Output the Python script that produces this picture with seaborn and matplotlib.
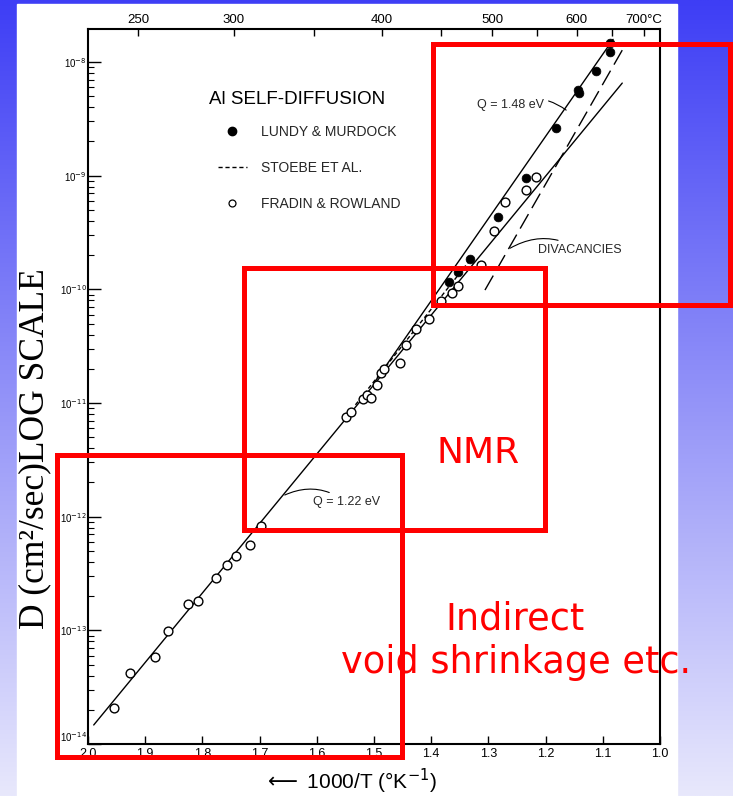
import numpy as np
import pandas as pd
import matplotlib
matplotlib.use("Agg")
import matplotlib.pyplot as plt
import seaborn as sns
from matplotlib.lines import Line2D
from matplotlib.patches import Rectangle
from matplotlib.ticker import LogLocator, NullFormatter

# ---------------- data ----------------
fradin_x = [1.954, 1.927, 1.882, 1.861, 1.826, 1.808, 1.776, 1.757, 1.742, 1.716,
            1.698, 1.549, 1.540, 1.520, 1.512, 1.505, 1.495, 1.487, 1.483, 1.455,
            1.444, 1.427, 1.404, 1.383, 1.364, 1.354, 1.313, 1.291, 1.271, 1.235, 1.217]
fradin_D = [2.08e-14, 4.19e-14, 5.79e-14, 9.86e-14, 1.71e-13, 1.80e-13, 2.86e-13,
            3.75e-13, 4.53e-13, 5.60e-13, 8.26e-13, 7.57e-12, 8.38e-12, 1.08e-11,
            1.17e-11, 1.11e-11, 1.44e-11, 1.85e-11, 1.98e-11, 2.26e-11, 3.23e-11,
            4.47e-11, 5.51e-11, 7.87e-11, 9.31e-11, 1.08e-10, 1.64e-10, 3.25e-10,
            5.81e-10, 7.41e-10, 9.75e-10]

lundy_x = [1.369, 1.353, 1.332, 1.284, 1.234, 1.182, 1.144, 1.142, 1.112, 1.087, 1.087]
lundy_D = [1.16e-10, 1.43e-10, 1.85e-10, 4.29e-10, 9.57e-10, 2.60e-9, 5.65e-9,
           5.28e-9, 8.36e-9, 1.22e-8, 1.46e-8]

q122_x = [1.990, 1.066]
q122_D = [1.47e-14, 6.52e-9]
q148_x = [1.500, 1.082]
q148_D = [1.50e-11, 1.58e-8]
stoebe_x = [1.533, 1.332]
stoebe_D = [9.55e-12, 1.81e-10]
divac_x = [1.311, 1.066]
divac_D = [8.9e-11, 1.27e-8]

bottom_ticks = [2.0, 1.9, 1.8, 1.7, 1.6, 1.5, 1.4, 1.3, 1.2, 1.1, 1.0]
bottom_labels = ["2.0", "1.9", "1.8", "1.7", "1.6", "1.5", "1.4", "1.3", "1.2", "1.1", "1.0"]
top_celsius = [250, 300, 350, 400, 450, 500, 550, 600, 650, 700]
top_labels = ["250", "300", "", "400", "", "500", "", "600", "", "700°C"]
y_decades = [-14, -13, -12, -11, -10, -9, -8]

legend_labels = ["LUNDY & MURDOCK", "STOEBE ET AL.", "FRADIN & ROWLAND"]

# red overlay boxes in figure pixels (x0, y0, x1, y1), y downwards
red_boxes = [(433, 44, 730, 305), (244, 268, 545, 530), (57, 455, 402, 757)]

# ---------------- style ----------------
sns.set_theme(style="ticks")
plt.rcParams["font.family"] = ["Liberation Sans", "DejaVu Sans"]

W, H = 733, 796
fig = plt.figure(figsize=(W / 100, H / 100), dpi=100)

# background gradient + white scan panel
bg = fig.add_axes([0, 0, 1, 1], zorder=0)
t = np.linspace(0, 1, 400)[:, None, None]
top_col = np.array([62, 62, 245]) / 255
bot_col = np.array([232, 232, 252]) / 255
img = top_col * (1 - t) + bot_col * t
img = np.repeat(img, 4, axis=1)
bg.imshow(img, aspect="auto", extent=[0, W, H, 0])
bg.set_xlim(0, W)
bg.set_ylim(H, 0)
bg.add_patch(Rectangle((17, 4), 660, H - 4, color="white", zorder=2))
bg.axis("off")

# main axes
ax = fig.add_axes([88 / W, (H - 744) / H, 572 / W, 715 / H], zorder=2)
ax.set_facecolor("white")

df_f = pd.DataFrame({"x": fradin_x, "D": fradin_D})
df_l = pd.DataFrame({"x": lundy_x, "D": lundy_D})

sns.lineplot(x=q122_x, y=q122_D, ax=ax, color="black", lw=1.0, zorder=3)
sns.lineplot(x=q148_x, y=q148_D, ax=ax, color="black", lw=1.0, zorder=3)
sns.lineplot(x=stoebe_x, y=stoebe_D, ax=ax, color="black", lw=1.0,
             linestyle=(0, (3, 2)), zorder=3)
sns.lineplot(x=divac_x, y=divac_D, ax=ax, color="black", lw=1.0,
             linestyle=(0, (12, 5)), zorder=3)

sns.scatterplot(data=df_f, x="x", y="D", ax=ax, marker="o", s=40,
                facecolor="white", edgecolor="black", linewidth=1.0, zorder=4)
sns.scatterplot(data=df_l, x="x", y="D", ax=ax, marker="o", s=40,
                color="black", edgecolor="black", linewidth=0.5, zorder=5)

ax.set_yscale("log")
ax.set_xlim(2.0, 1.0)
ax.set_ylim(1e-14, 10 ** -7.71)

ax.set_xticks(bottom_ticks, bottom_labels)
ax.tick_params(axis="x", which="both", direction="in", length=6, width=1,
               labelsize=9, pad=3, colors="black", top=False)
ax.set_yticks([10.0 ** k for k in y_decades], [f"10$^{{{k}}}$" for k in y_decades])
ax.yaxis.set_minor_locator(LogLocator(base=10, subs=np.arange(2, 10)))
ax.yaxis.set_minor_formatter(NullFormatter())
ax.tick_params(axis="y", which="major", direction="in", length=9, width=1,
               labelsize=7, pad=1, colors="black", right=False)
ax.tick_params(axis="y", which="minor", direction="in", length=4.5, width=0.8,
               colors="black", right=False)
for sp in ax.spines.values():
    sp.set_color("black")
    sp.set_linewidth(1.5)
    sp.set_visible(True)
# lowest decade label sits just above the corner, as in the scan
ax.get_yticklabels()[0].set_verticalalignment("bottom")

axt = ax.twiny()
axt.set_xlim(2.0, 1.0)
axt.set_xticks([1000.0 / (c + 273.0) for c in top_celsius], top_labels)
axt.tick_params(axis="x", direction="in", length=5, width=1, labelsize=9.5,
                pad=2, colors="black")
axt.xaxis.set_minor_locator(matplotlib.ticker.NullLocator())
for sp in axt.spines.values():
    sp.set_visible(False)

ax.set_ylabel("")
ax.set_xlabel("$\\longleftarrow$ 1000/T (°K$^{-1}$)", fontsize=15, color="black")
ax.xaxis.set_label_coords(0.458, -0.032)

# titles / legend inside the plot
ax.text(0.366, 0.901, "Al SELF-DIFFUSION", transform=ax.transAxes,
        ha="center", va="center", fontsize=13.5, color="black")

handles = [
    Line2D([], [], marker="o", color="black", ls="none", markersize=6),
    Line2D([], [], color="black", lw=1.0, ls=(0, (3, 2))),
    Line2D([], [], marker="o", mfc="white", mec="black", ls="none", markersize=5, mew=0.9),
]
ax.legend(handles, legend_labels, loc="upper left", bbox_to_anchor=(0.227, 0.866),
          frameon=False, fontsize=10, handlelength=2.1, handletextpad=1.0,
          labelspacing=1.6, borderpad=0, borderaxespad=0)

ann = dict(arrowstyle="-", lw=0.8, color="black", shrinkA=1, shrinkB=0)
ax.annotate("Q = 1.48 eV", xy=(1.164, 3.77e-9), xytext=(0.680, 0.894),
            textcoords="axes fraction", ha="left", va="center", fontsize=9,
            arrowprops=dict(ann, connectionstyle="arc3,rad=-0.3"))
ax.annotate("Q = 1.22 eV", xy=(1.656, 1.55e-12), xytext=(0.393, 0.338),
            textcoords="axes fraction", ha="left", va="center", fontsize=9,
            arrowprops=dict(ann, connectionstyle="arc3,rad=0.3"))
ax.annotate("DIVACANCIES", xy=(1.262, 2.30e-10), xytext=(0.787, 0.691),
            textcoords="axes fraction", ha="left", va="center", fontsize=9,
            arrowprops=dict(ann, connectionstyle="arc3,rad=0.3"))

# overlay: y label and red annotations
ov = fig.add_axes([0, 0, 1, 1], zorder=6)
ov.set_xlim(0, W)
ov.set_ylim(H, 0)
ov.axis("off")
ov.patch.set_alpha(0)
ov.text(35, 449, "D (cm²/sec)LOG SCALE", rotation=90, ha="center", va="center",
        fontsize=25.5, family=["Liberation Serif", "DejaVu Serif"], color="black")

for (x0, y0, x1, y1) in red_boxes:
    ov.add_patch(Rectangle((x0, y0), x1 - x0, y1 - y0, fill=False,
                           edgecolor="#ff0000", lw=3.6, joinstyle="miter"))
red_font = ["DejaVu Sans"]
ov.text(478, 463, "NMR", ha="center", va="baseline", fontsize=26,
        color="#ff0000", family=red_font)
ov.text(515, 629, "Indirect", ha="center", va="baseline", fontsize=26.5,
        color="#ff0000", family=red_font)
ov.text(516, 673, "void shrinkage etc.", ha="center", va="baseline", fontsize=26.5,
        color="#ff0000", family=red_font)

fig.savefig("out.png", dpi=100)
